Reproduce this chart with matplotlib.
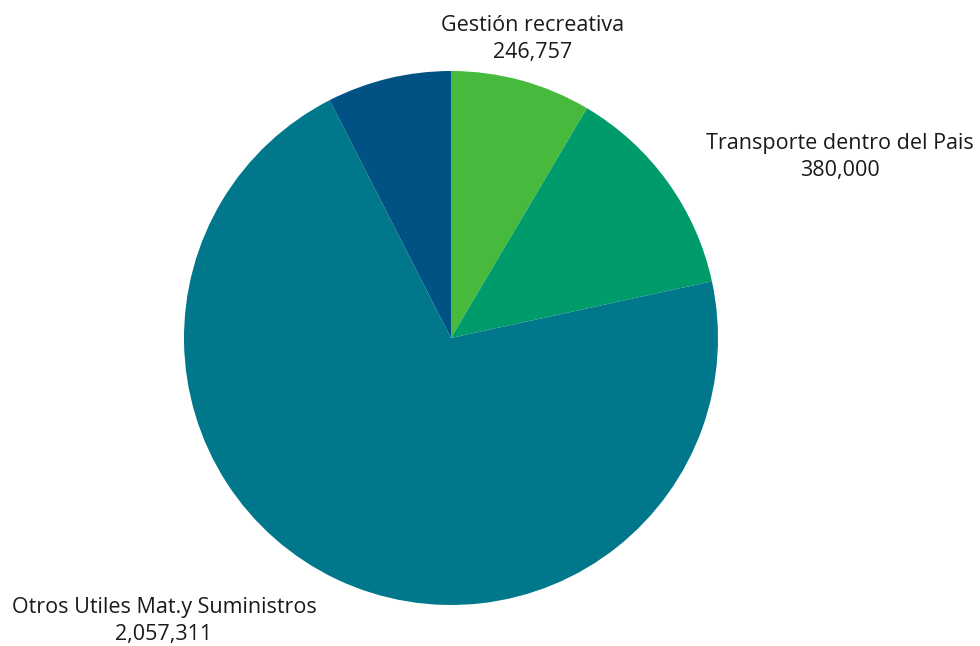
import matplotlib
matplotlib.use("Agg")
import matplotlib.pyplot as plt

categories = ["Gestión recreativa", "Transporte dentro del Pais",
              "Otros Utiles Mat.y Suministros", "Otros"]
values = [246757, 380000, 2057311, 218000]
show_label = [True, True, True, False]
colors = ["#47B93C", "#009B6B", "#00778A", "#005284"]

plt.rcParams['font.family'] = ['Open Sans', 'DejaVu Sans']

W, H = 980, 646
fig = plt.figure(figsize=(W / 100, H / 100), dpi=100)
cx, cy, r = 451, 338, 267
ax = fig.add_axes([(cx - r) / W, (H - cy - r) / H, 2 * r / W, 2 * r / H])
wedges, _ = ax.pie(values, colors=colors, startangle=90, counterclock=False,
                   radius=1, wedgeprops=dict(linewidth=0))
ax.set_xlim(-1, 1)
ax.set_ylim(-1, 1)
ax.set_aspect('equal')

# label centres in pixel coords (relative to figure)
label_pos = [(533, 39), (840, 157), (164, 621), None]
for name, val, show, pos in zip(categories, values, show_label, label_pos):
    if not show:
        continue
    x = (pos[0] - cx) / r
    y = (cy - pos[1]) / r
    ax.text(x, y, f"{name}\n{val:,}", ha='center', va='center', fontsize=15.5,
            color='#1a1a1a', linespacing=1.35, clip_on=False)

fig.savefig("out.png", dpi=100)
